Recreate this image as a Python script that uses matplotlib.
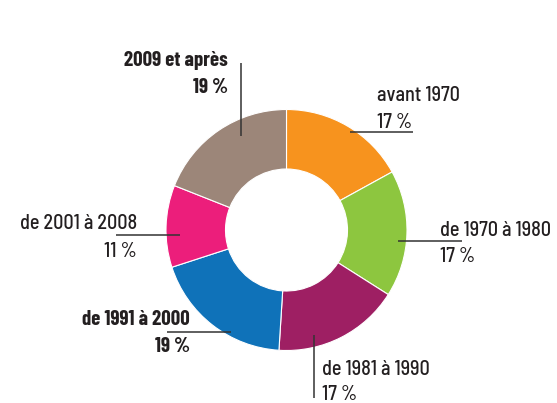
import matplotlib
matplotlib.use("Agg")
import matplotlib.pyplot as plt

# données
categories = ["avant 1970", "de 1970 à 1980", "de 1981 à 1990",
              "de 1991 à 2000", "de 2001 à 2008", "2009 et après"]
values = [17, 17, 17, 19, 11, 19]
colors = ["#F7931E", "#8DC63F", "#9E1F63", "#0F72B9", "#EC1E7B", "#9C8679"]
bold = [False, False, False, True, False, True]

W, H = 557, 403
plt.rcParams['font.family'] = ['Barlow Semi Condensed', 'DejaVu Sans']

fig = plt.figure(figsize=(W / 100, H / 100), dpi=100)
ax = fig.add_axes([0, 0, 1, 1])

def py(y):
    # coordonnées pixel (haut -> bas) vers données
    return H - y

cx, cy, r_out, r_in = 286.5, 230, 120.5, 61
ax.pie(values, colors=colors, startangle=90, counterclock=False,
       center=(cx, py(cy)), radius=r_out, frame=True,
       wedgeprops=dict(width=r_out - r_in, edgecolor="white", linewidth=0.8))
ax.set_xlim(0, W)
ax.set_ylim(0, H)
ax.set_aspect("equal")
ax.axis("off")

# étiquettes : (x, alignement, ligne de base 1, ligne de base 2)
label_pos = [
    (377, "left", 101, 128),
    (440, "left", 236, 262),
    (322, "left", 375, 400),
    (190, "right", 325, 352),
    (137, "right", 229, 257),
    (228, "right", 66, 93),
]
# traits de repère (x0, y0, x1, y1)
leaders = [
    (350, 132, 413, 132),
    (398, 241, 462, 241),
    (314, 335, 314, 398),
    (167, 332, 231, 332),
    (116, 235, 180, 235),
    (241, 63, 241, 136),
]

for cat, v, b, (x, ha, y1, y2), (x0, y0, x1, y1_) in zip(
        categories, values, bold, label_pos, leaders):
    if b:
        kw = dict(family=['Barlow Condensed', 'DejaVu Sans'], fontweight="bold",
                  fontsize=15)
    else:
        kw = dict(fontweight="medium", fontsize=14.5)
    ax.text(x, py(y1), cat, ha=ha, va="baseline", color="#231F20", **kw)
    ax.text(x, py(y2), f"{v} %", ha=ha, va="baseline", color="#231F20", **kw)
    ax.plot([x0, x1], [py(y0), py(y1_)], color="#333333", lw=1.1,
            solid_capstyle="butt")

fig.savefig("out.png", dpi=100)
